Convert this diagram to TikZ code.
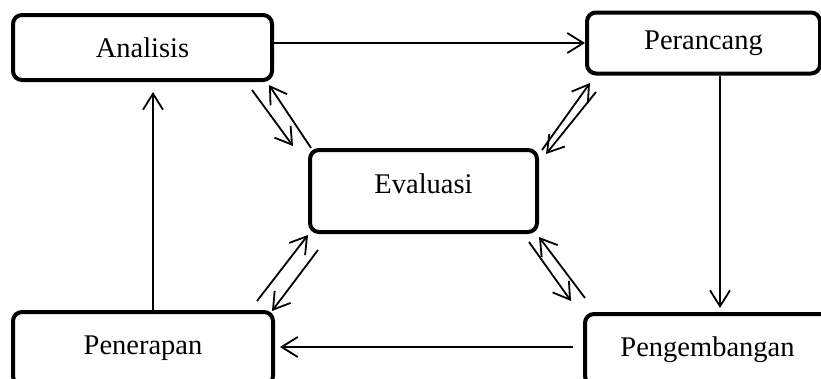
\documentclass[tikz,border=0pt]{standalone}
\usepackage{fontspec}
\setmainfont{Liberation Serif}
\usetikzlibrary{arrows.meta,calc}
\begin{document}
\begin{tikzpicture}[x=1pt,y=-1pt,
  stage/.style={draw=black,line width=4pt,rounded corners=9pt,fill=white,
    inner sep=0pt,font=\fontsize{28.5}{34}\selectfont},
  arr/.style={line width=1.8pt,-{Straight Barb[length=16pt,width=20pt]}}]
\useasboundingbox (0,0) rectangle (821,378);
\clip (0,0) rectangle (821,378);
\fill[white] (0,0) rectangle (821,378);
\node[stage,minimum width=259pt,minimum height=65pt] (ana) at (142.5,47.5) {Analisis};
\node[stage,minimum width=233pt,minimum height=61pt] (per) at (703.5,43) {Perancang};
\node[stage,minimum width=227pt,minimum height=82pt,text height=20pt,text depth=16pt] (ev) at (423.5,191) {Evaluasi};
\node[stage,minimum width=260pt,minimum height=73pt] (pen) at (143,348.5) {Penerapan};
\node[stage,minimum width=245pt,minimum height=71pt] (pgb) at (707.5,349.5) {Pengembangan};
% main cycle
\draw[arr] (ana.east |- per.west) -- (per.west);
\draw[arr] ($(per.south)+(16.5,0)$) -- ($(pgb.north)+(12.5,-4)$);
\draw[arr] ($(pgb.west)+(-10,-2.5)$) -- ($(pen.east)+(5,-1.5)$);
\draw[arr] ($(pen.north)+(10,0)$) -- ($(ana.south)+(10.5,10)$);
% evaluation pairs
\draw[arr] ($(ana.south east)+(-22,8)$) -- ($(ev.north west)+(-15,-2)$);
\draw[arr] ($(ev.north west)+(3,0)$) -- ($(ana.south east)+(-5,3)$);
\draw[arr] ($(ev.north east)+(3,2)$) -- ($(per.south west)+(5,7.5)$);
\draw[arr] ($(per.south west)+(11,16.5)$) -- ($(ev.north east)+(7,6)$);
\draw[arr] ($(pen.north east)+(-18,-9)$) -- ($(ev.south west)+(0,1)$);
\draw[arr] ($(ev.south west)+(10,16)$) -- ($(pen.north east)+(-3,1)$);
\draw[arr] ($(pgb.north west)+(2,-14)$) -- ($(ev.south east)+(0,3)$);
\draw[arr] ($(ev.south east)+(-10,8)$) -- ($(pgb.north west)+(-12,-11)$);
\end{tikzpicture}
\end{document}
